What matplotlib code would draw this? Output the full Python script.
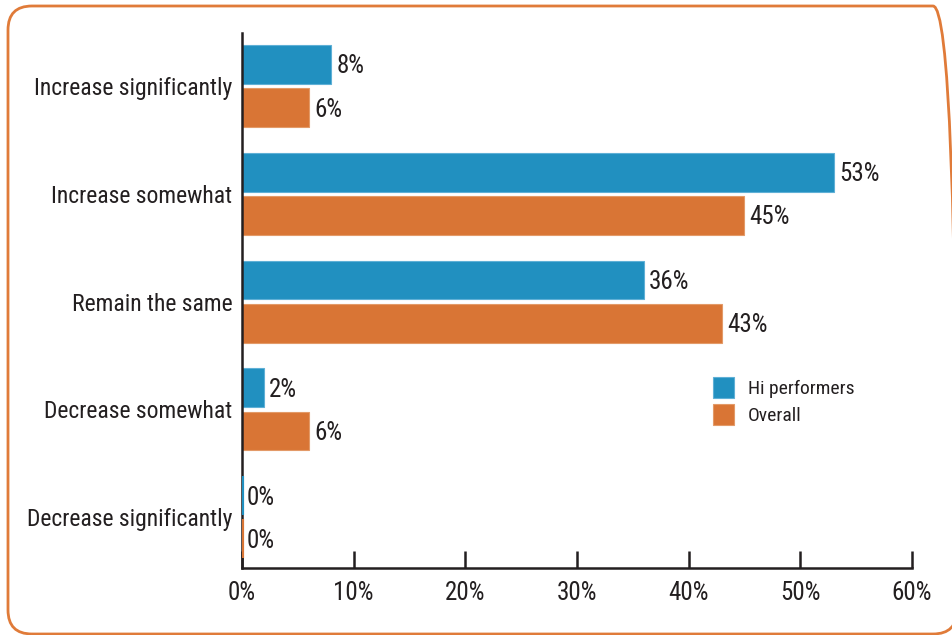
import matplotlib.pyplot as plt
from matplotlib.patches import FancyBboxPatch
import numpy as np

plt.rcParams['font.family'] = ['Roboto Condensed', 'Liberation Sans Narrow', 'DejaVu Sans']

# survey answers, top to bottom
categories = ['Increase significantly', 'Increase somewhat', 'Remain the same',
              'Decrease somewhat', 'Decrease significantly']
hi_performers = [8, 53, 36, 2, 0]
overall = [6, 45, 43, 6, 0]
series_names = ['Hi performers', 'Overall']
xticks = [0, 10, 20, 30, 40, 50, 60]

blue = '#2190c0'
orange = '#d97535'
dark = '#231f20'

fig = plt.figure(figsize=(9.53, 6.35), dpi=100)

# rounded frame around the whole chart, in pixels (right side runs off the canvas)
frame = FancyBboxPatch((8, 1), 949, 628,
                       boxstyle='round,pad=0,rounding_size=24',
                       transform=None, facecolor='none',
                       edgecolor='#e07b39', linewidth=2)
fig.patches.append(frame)

ax = fig.add_axes([242 / 953, 1 - 568 / 635, (912 - 242) / 953, (568 - 33) / 635])

y = np.arange(len(categories))
h = 0.36
off = 0.2
b1 = ax.barh(y - off, hi_performers, height=h, color=blue, edgecolor='#5fb0d6',
             linewidth=0.8, label=series_names[0])
b2 = ax.barh(y + off, overall, height=h, color=orange, edgecolor='#e39a68',
             linewidth=0.8, label=series_names[1])

# zero-valued bars still show as a thin coloured line on the axis
for bars, vals, col in [(b1, hi_performers, blue), (b2, overall, orange)]:
    for bar, v in zip(bars, vals):
        if v == 0:
            bar.set_edgecolor(col)
            bar.set_linewidth(3)
            bar.set_zorder(3)

for bars, vals in [(b1, hi_performers), (b2, overall)]:
    for bar, v in zip(bars, vals):
        ax.text(v + 0.45, bar.get_y() + bar.get_height() / 2 + 0.02, f'{v}%',
                va='center', ha='left', fontsize=18, color=dark)

ax.set_ylim(len(categories) - 0.53, -0.49)
ax.set_xlim(0, 60)
ax.set_yticks(y)
ax.set_yticklabels(categories, fontsize=17, color=dark)
ax.set_xticks(xticks)
ax.set_xticklabels([f'{t}%' for t in xticks], fontsize=18, color=dark)
ax.tick_params(axis='y', length=0, pad=7)
ax.tick_params(axis='x', direction='in', length=12, width=1.8, color=dark, pad=9)

for s in ['top', 'right']:
    ax.spines[s].set_visible(False)
for s in ['left', 'bottom']:
    ax.spines[s].set_color(dark)
    ax.spines[s].set_linewidth(1.8)

leg = ax.legend(loc='upper left', bbox_to_anchor=(0.677, 0.39), frameon=False,
                fontsize=14, handlelength=1.1, handleheight=1.3,
                handletextpad=0.7, labelspacing=0.32)
for t in leg.get_texts():
    t.set_color(dark)

fig.savefig('out.png', dpi=100)
